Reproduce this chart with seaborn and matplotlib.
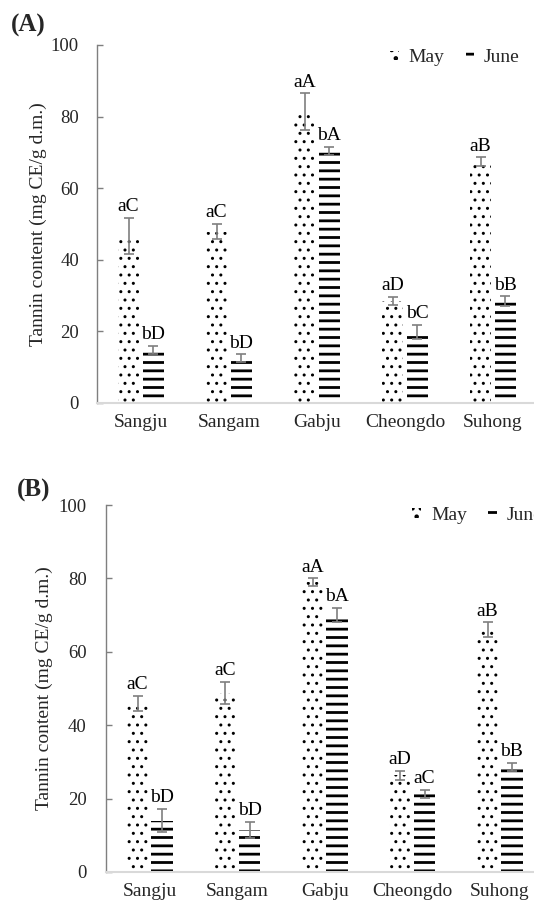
import matplotlib
matplotlib.use("Agg")
import matplotlib.pyplot as plt
import matplotlib.patches as mpatches
from matplotlib.container import BarContainer
import seaborn as sns
import pandas as pd

# ---------------- data ----------------
cultivars = ["Sangju", "Sangam", "Gabju", "Cheongdo", "Suhong"]
months = ["May", "June"]

a_may = [46.6, 47.9, 81.4, 28.5, 67.4]
a_may_err = [5.0, 2.1, 5.1, 1.2, 1.2]
a_june = [14.8, 12.5, 70.4, 19.8, 28.5]
a_june_err = [1.1, 1.1, 1.2, 2.0, 1.3]
a_may_lbl = ["aC", "aC", "aA", "aD", "aB"]
a_june_lbl = ["bD", "bD", "bA", "bC", "bB"]

b_may = [46.0, 48.7, 78.9, 26.3, 66.0]
b_may_err = [2.0, 3.0, 1.1, 1.3, 2.0]
b_june = [14.0, 11.5, 70.0, 21.2, 28.7]
b_june_err = [3.2, 2.2, 2.0, 1.1, 1.1]
b_may_lbl = ["aC", "aC", "aA", "aD", "aB"]
b_june_lbl = ["bD", "bD", "bA", "aC", "bB"]

yticks = [0, 20, 40, 60, 80, 100]
ylabel = "Tannin content (mg CE/g d.m.)"

# ---------------- style ----------------
sns.set_theme(style="white")
plt.rcParams["font.family"] = ["Liberation Serif", "DejaVu Serif"]
plt.rcParams["hatch.linewidth"] = 2.0

GREY = "#7f7f7f"
HATCHES = ["..", "--"]
HATCH_LW = [1.0, 2.0]
FS = 14


def style_patch(p, i):
    p.set_facecolor("white")
    p.set_edgecolor("black")
    p.set_linewidth(0)
    p.set_hatch(HATCHES[i])
    if hasattr(p, "set_hatch_linewidth"):
        p.set_hatch_linewidth(HATCH_LW[i])


def panel(ax, may, may_err, june, june_err, may_lbl, june_lbl, xmax,
          tickpad, labelpad, leg_anchor):
    df = pd.DataFrame({
        "cultivar": cultivars * 2,
        "month": ["May"] * len(cultivars) + ["June"] * len(cultivars),
        "tannin": list(may) + list(june),
    })
    sns.barplot(data=df, x="cultivar", y="tannin", hue="month",
                order=cultivars, hue_order=months, width=0.56, gap=0.14,
                errorbar=None, ax=ax, legend=False)
    errs = [may_err, june_err]
    lbls = [may_lbl, june_lbl]
    bar_conts = [c for c in ax.containers if isinstance(c, BarContainer)]
    for i, cont in enumerate(bar_conts):
        xs, ys = [], []
        for p in cont.patches:
            style_patch(p, i)
            xs.append(p.get_x() + p.get_width() / 2)
            ys.append(p.get_height())
        ax.errorbar(xs, ys, yerr=errs[i], fmt="none", ecolor=GREY,
                    elinewidth=1.2, capsize=3.5, capthick=1.2, zorder=5)
        for x, y, e, t in zip(xs, ys, errs[i], lbls[i]):
            ax.annotate(t, (x, y + e), xytext=(0, 2), textcoords="offset points",
                        ha="center", va="bottom", fontsize=FS, color="black")

    ax.set_ylim(0, 100)
    ax.set_xlim(-0.5, xmax)
    ax.set_yticks(yticks)
    ax.set_yticklabels([str(v) for v in yticks])
    ax.set_xlabel("")
    ax.set_ylabel(ylabel, fontsize=FS, labelpad=labelpad)
    for s in ["top", "right"]:
        ax.spines[s].set_visible(False)
    ax.spines["left"].set_color(GREY)
    ax.spines["left"].set_linewidth(1.0)
    ax.spines["bottom"].set_color("#d9d9d9")
    ax.spines["bottom"].set_linewidth(1.5)
    ax.tick_params(axis="y", direction="in", length=4, width=1.0, color=GREY,
                   labelsize=13.5, pad=tickpad, left=True)
    ax.tick_params(axis="x", length=0, labelsize=FS, pad=8)
    ax.set_facecolor("white")
    ax.grid(False)

    handles = []
    for i, m in enumerate(months):
        h = mpatches.Patch(facecolor="white", edgecolor="black", linewidth=0,
                           hatch=HATCHES[i], label=m)
        if hasattr(h, "set_hatch_linewidth"):
            h.set_hatch_linewidth(HATCH_LW[i])
        handles.append(h)
    ax.legend(handles=handles, loc="center left", bbox_to_anchor=leg_anchor,
              ncol=2, frameon=False, fontsize=FS, handlelength=0.45,
              handleheight=0.4, handletextpad=0.5, columnspacing=1.1,
              borderpad=0, borderaxespad=0)


W, H = 534, 908
fig = plt.figure(figsize=(W / 100, H / 100), dpi=100)
fig.patch.set_facecolor("white")

ax1 = fig.add_axes([97 / W, 1 - 403 / H, (W - 97) / W, 358 / H])
ax2 = fig.add_axes([106 / W, 1 - 872 / H, (W - 106) / W, 367 / H])

panel(ax1, a_may, a_may_err, a_june, a_june_err, a_may_lbl, a_june_lbl,
      -0.5 + (W - 97) / 88.0, 13, 3, (0.67, 0.964))
panel(ax2, b_may, b_may_err, b_june, b_june_err, b_may_lbl, b_june_lbl,
      -0.5 + (W - 106) / 87.5, 14, 4, (0.716, 0.972))

fig.text(11 / W, 1 - 25 / H, "(A)", fontsize=18, fontweight="bold",
         va="center", ha="left")
fig.text(17 / W, 1 - 490 / H, "(B)", fontsize=18, fontweight="bold",
         va="center", ha="left")

fig.savefig("out.png", dpi=100, facecolor="white")
